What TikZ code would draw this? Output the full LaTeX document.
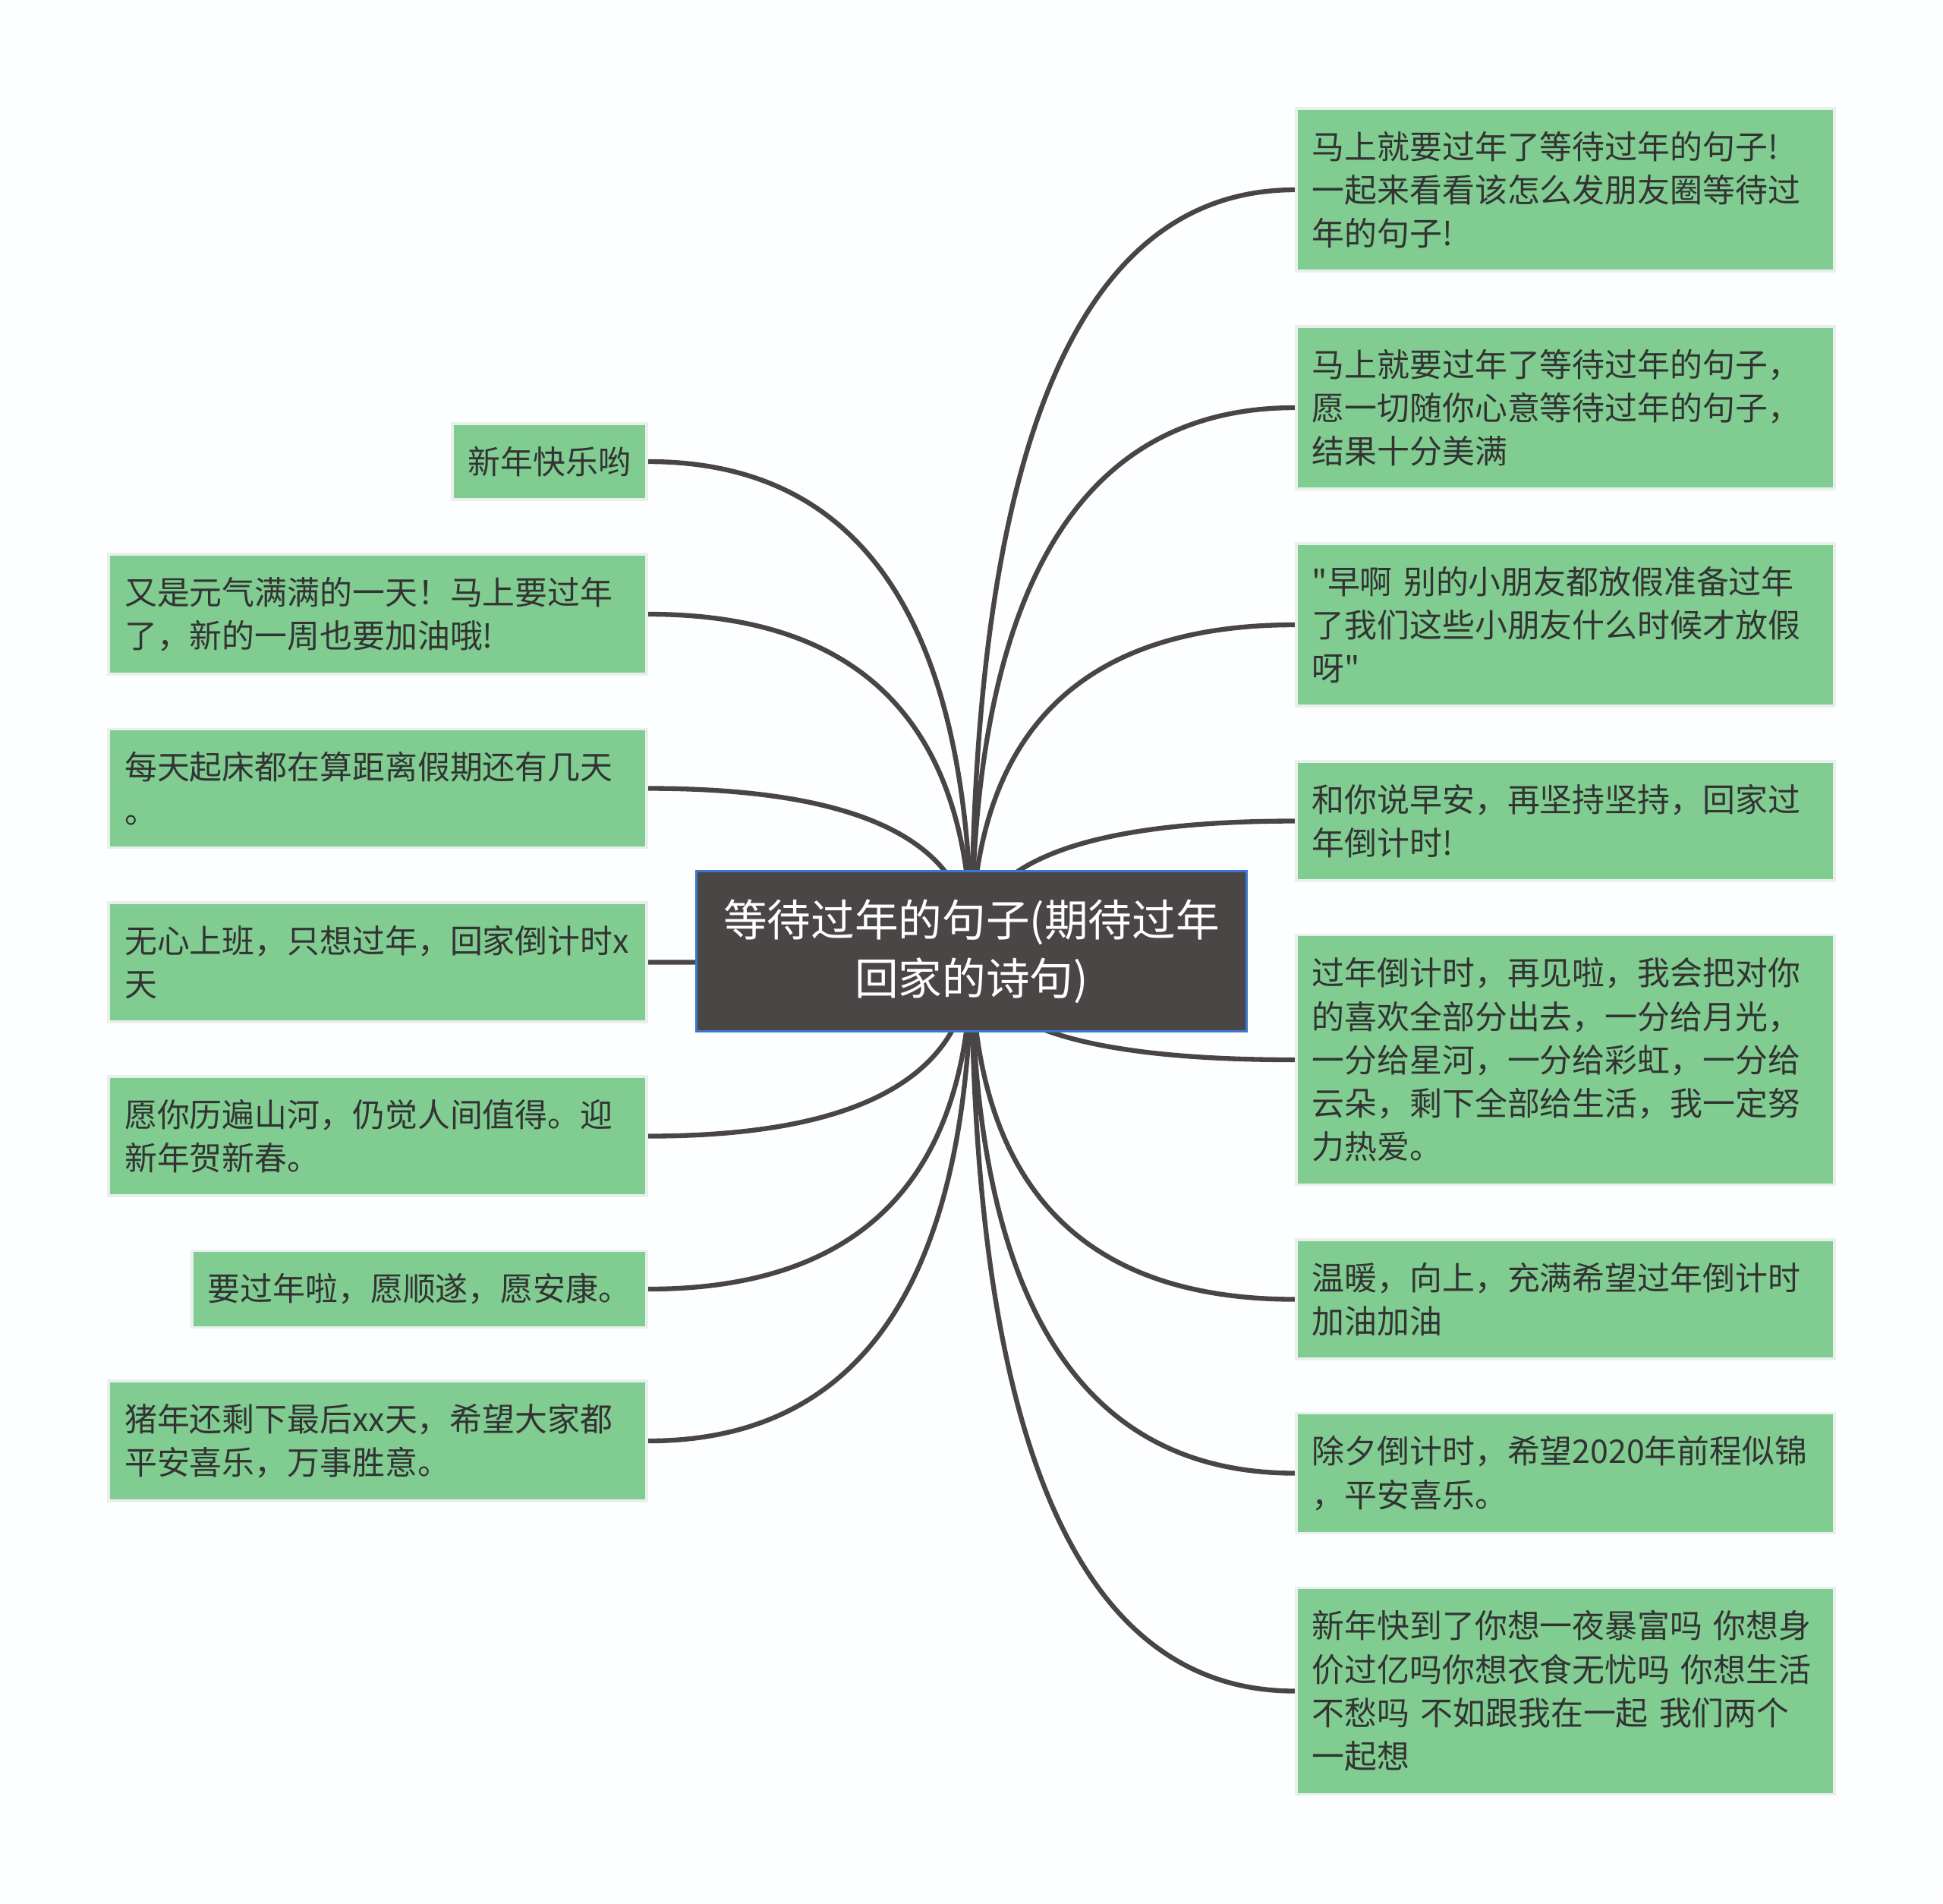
\documentclass[tikz,border=0pt]{standalone}
\usepackage{fontspec}
\setmainfont{Noto Sans CJK SC}[Ligatures=TeXOff]
\usetikzlibrary{calc,backgrounds}
\definecolor{ink}{RGB}{51,51,51}
\definecolor{leafgreen}{RGB}{128,204,145}
\definecolor{leafedge}{RGB}{232,240,236}
\definecolor{rootgray}{RGB}{75,70,70}
\definecolor{rootblue}{RGB}{59,120,205}
\definecolor{linkgray}{RGB}{74,69,69}
\definecolor{paper}{RGB}{253,254,255}

\tikzset{
  leaf/.style={fill=leafgreen, draw=leafedge, line width=1pt, text=ink,
    align=left, inner xsep=0.21cm, inner ysep=8.5pt,
    font=\fontsize{12.2pt}{16.3pt}\selectfont},
  wideleaf/.style={leaf, text width=6.67cm},
  link/.style={draw=linkgray, line width=1.8pt},
}

\begin{document}
\begin{tikzpicture}
  \useasboundingbox (0,0) rectangle (25.6,-25.07);

  % centre topic
  \node[fill=rootgray, draw=rootblue, line width=0.8pt, text=white, align=center,
        minimum width=7.25cm, minimum height=2.11cm,
        font=\fontsize{16.4pt}{21.9pt}\selectfont] (root) at (12.80,-12.53)
        {等待过年的句子(期待过年\\回家的诗句)};

  % right branch
  \node[wideleaf, anchor=west] (r1) at (17.06,-2.50)
    {马上就要过年了等待过年的句子!\\一起来看看该怎么发朋友圈等待过\\年的句子!};
  \node[wideleaf, anchor=west] (r2) at (17.06,-5.37)
    {马上就要过年了等待过年的句子，\\愿一切随你心意等待过年的句子，\\结果十分美满};
  \node[wideleaf, anchor=west] (r3) at (17.06,-8.23)
    {"早啊 别的小朋友都放假准备过年\\了我们这些小朋友什么时候才放假\\呀"};
  \node[wideleaf, anchor=west] (r4) at (17.06,-10.815)
    {和你说早安，再坚持坚持，回家过\\年倒计时!};
  \node[wideleaf, anchor=west] (r5) at (17.06,-13.96)
    {过年倒计时，再见啦，我会把对你\\的喜欢全部分出去，一分给月光，\\一分给星河，一分给彩虹，一分给\\云朵，剩下全部给生活，我一定努\\力热爱。};
  \node[wideleaf, anchor=west] (r6) at (17.06,-17.115)
    {温暖，向上，充满希望过年倒计时\\加油加油};
  \node[wideleaf, anchor=west] (r7) at (17.06,-19.405)
    {除夕倒计时，希望2020年前程似锦\\，平安喜乐。};
  \node[wideleaf, anchor=west] (r8) at (17.06,-22.275)
    {新年快到了你想一夜暴富吗 你想身\\价过亿吗你想衣食无忧吗 你想生活\\不愁吗 不如跟我在一起 我们两个\\一起想};

  % left branch
  \node[leaf, anchor=east] (l1) at (8.54,-6.08) {新年快乐哟};
  \node[wideleaf, anchor=east] (l2) at (8.54,-8.09)
    {又是元气满满的一天！马上要过年\\了，新的一周也要加油哦!};
  \node[wideleaf, anchor=east] (l3) at (8.54,-10.385)
    {每天起床都在算距离假期还有几天\\。};
  \node[wideleaf, anchor=east] (l4) at (8.54,-12.675)
    {无心上班，只想过年，回家倒计时x\\天};
  \node[wideleaf, anchor=east] (l5) at (8.54,-14.965)
    {愿你历遍山河，仍觉人间值得。迎\\新年贺新春。};
  \node[leaf, anchor=east] (l6) at (8.54,-16.98) {要过年啦，愿顺遂，愿安康。};
  \node[wideleaf, anchor=east] (l7) at (8.54,-18.98)
    {猪年还剩下最后xx天，希望大家都\\平安喜乐，万事胜意。};

  \begin{scope}[on background layer]
    \fill[paper] (0,0) rectangle (25.6,-25.07);
    \foreach \n in {r1,r2,r3,r4,r5,r6,r7,r8}
      \draw[link] (root.center)
        .. controls ($(root.center)!2/3!(root.center |- \n.west)$)
        and ($(\n.west)!2/3!(root.center |- \n.west)$) .. (\n.west);
    \foreach \n in {l1,l2,l3,l4,l5,l6,l7}
      \draw[link] (root.center)
        .. controls ($(root.center)!2/3!(root.center |- \n.east)$)
        and ($(\n.east)!2/3!(root.center |- \n.east)$) .. (\n.east);
  \end{scope}
\end{tikzpicture}
\end{document}
